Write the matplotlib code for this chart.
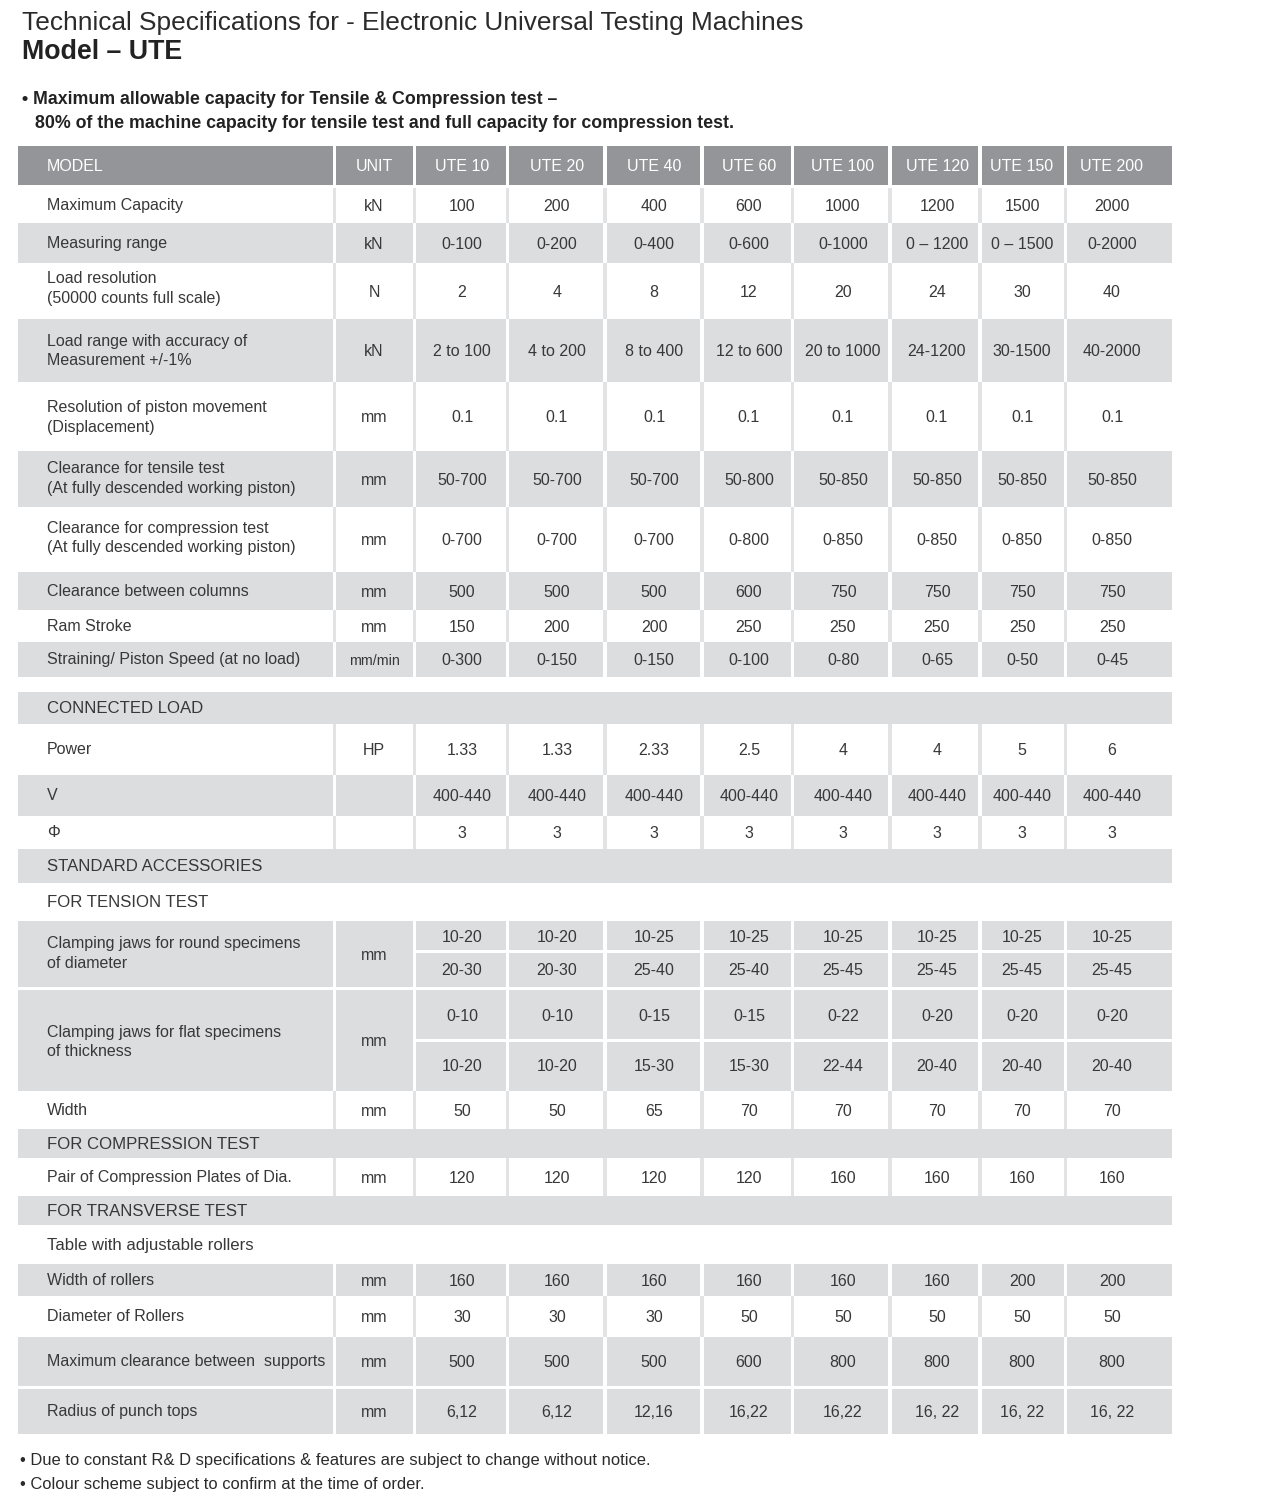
import matplotlib
matplotlib.use("Agg")
import matplotlib.pyplot as plt
from matplotlib.patches import Rectangle

plt.rcParams['font.family'] = ['Liberation Sans', 'DejaVu Sans']

# ---------------- text content ----------------
title_text = "Technical Specifications for - Electronic Universal Testing Machines"
model_text = "Model \u2013 UTE"
note_lines = ["\u2022 Maximum allowable capacity for Tensile & Compression test \u2013",
              "80% of the machine capacity for tensile test and full capacity for compression test."]
footnotes = ["\u2022 Due to constant R& D specifications & features are subject to change without notice.",
             "\u2022 Colour scheme subject to confirm at the time of order."]

label_header = "MODEL"
unit_header = "UNIT"
models = ["UTE 10", "UTE 20", "UTE 40", "UTE 60", "UTE 100", "UTE 120", "UTE 150", "UTE 200"]

# ---------------- data ----------------
max_capacity = ["100", "200", "400", "600", "1000", "1200", "1500", "2000"]
measuring_range = ["0-100", "0-200", "0-400", "0-600", "0-1000", "0 \u2013 1200", "0 \u2013 1500", "0-2000"]
load_resolution = ["2", "4", "8", "12", "20", "24", "30", "40"]
load_range = ["2 to 100", "4 to 200", "8 to 400", "12 to 600", "20 to 1000", "24-1200", "30-1500", "40-2000"]
piston_resolution = ["0.1", "0.1", "0.1", "0.1", "0.1", "0.1", "0.1", "0.1"]
clear_tensile = ["50-700", "50-700", "50-700", "50-800", "50-850", "50-850", "50-850", "50-850"]
clear_compression = ["0-700", "0-700", "0-700", "0-800", "0-850", "0-850", "0-850", "0-850"]
clear_columns = ["500", "500", "500", "600", "750", "750", "750", "750"]
ram_stroke = ["150", "200", "200", "250", "250", "250", "250", "250"]
piston_speed = ["0-300", "0-150", "0-150", "0-100", "0-80", "0-65", "0-50", "0-45"]
power = ["1.33", "1.33", "2.33", "2.5", "4", "4", "5", "6"]
voltage = ["400-440", "400-440", "400-440", "400-440", "400-440", "400-440", "400-440", "400-440"]
phase = ["3", "3", "3", "3", "3", "3", "3", "3"]
round_jaws_a = ["10-20", "10-20", "10-25", "10-25", "10-25", "10-25", "10-25", "10-25"]
round_jaws_b = ["20-30", "20-30", "25-40", "25-40", "25-45", "25-45", "25-45", "25-45"]
flat_jaws_a = ["0-10", "0-10", "0-15", "0-15", "0-22", "0-20", "0-20", "0-20"]
flat_jaws_b = ["10-20", "10-20", "15-30", "15-30", "22-44", "20-40", "20-40", "20-40"]
jaw_width = ["50", "50", "65", "70", "70", "70", "70", "70"]
comp_plates = ["120", "120", "120", "120", "160", "160", "160", "160"]
roller_width = ["160", "160", "160", "160", "160", "160", "200", "200"]
roller_dia = ["30", "30", "30", "50", "50", "50", "50", "50"]
max_clearance = ["500", "500", "500", "600", "800", "800", "800", "800"]
punch_radius = ["6,12", "6,12", "12,16", "16,22", "16,22", "16, 22", "16, 22", "16, 22"]

rows = [
    ("data", ["Maximum Capacity"], "kN", max_capacity),
    ("data", ["Measuring range"], "kN", measuring_range),
    ("data", ["Load resolution", "(50000 counts full scale)"], "N", load_resolution),
    ("data", ["Load range with accuracy of", "Measurement +/-1%"], "kN", load_range),
    ("data", ["Resolution of piston movement", "(Displacement)"], "mm", piston_resolution),
    ("data", ["Clearance for tensile test", "(At fully descended working piston)"], "mm", clear_tensile),
    ("data", ["Clearance for compression test", "(At fully descended working piston)"], "mm", clear_compression),
    ("data", ["Clearance between columns"], "mm", clear_columns),
    ("data", ["Ram Stroke"], "mm", ram_stroke),
    ("data", ["Straining/ Piston Speed (at no load)"], "mm/min", piston_speed),
    ("blank", [], "", None),
    ("section", ["CONNECTED LOAD"], "", None),
    ("data", ["Power"], "HP", power),
    ("data", ["V"], "", voltage),
    ("data", ["\u03a6"], "", phase),
    ("section", ["STANDARD ACCESSORIES"], "", None),
    ("blank", ["FOR TENSION TEST"], "", None),
    ("split", ["Clamping jaws for round specimens", "of diameter"], "mm", (round_jaws_a, round_jaws_b)),
    ("split", ["Clamping jaws for flat specimens", "of thickness"], "mm", (flat_jaws_a, flat_jaws_b)),
    ("data", ["Width"], "mm", jaw_width),
    ("section", ["FOR COMPRESSION TEST"], "", None),
    ("data", ["Pair of Compression Plates of Dia."], "mm", comp_plates),
    ("section", ["FOR TRANSVERSE TEST"], "", None),
    ("blank", ["Table with adjustable rollers"], "", None),
    ("data", ["Width of rollers"], "mm", roller_width),
    ("data", ["Diameter of Rollers"], "mm", roller_dia),
    ("data", ["Maximum clearance between  supports"], "mm", max_clearance),
    ("data", ["Radius of punch tops"], "mm", punch_radius),
]

# ---------------- layout (pixels) ----------------
W, H = 1264, 1500
col_edges = [(18, 333), (336, 413), (416, 506), (509, 603), (607, 700), (704, 791),
             (794, 888), (892, 978), (982, 1064), (1067, 1172)]
col_text_x = [374, 462, 557, 654, 749, 843, 937, 1022, 1112]
label_x = 47
header_box = (146, 185)
# (top, bottom, shaded, split_y, label line centres for two-line labels)
row_layout = [
    (188, 223, False, None, None), (223, 263, True, None, None),
    (263, 319, False, None, (277, 297)),
    (319, 382, True, None, (340, 359)), (382, 451, False, None, (406, 426)),
    (451, 507, True, None, (467, 487)),
    (507, 572, False, None, (527, 546)), (572, 610, True, None, None),
    (610, 642, False, None, None),
    (642, 677, True, None, None), (677, 692, False, None, None), (692, 724, True, None, None),
    (724, 775, False, None, None), (775, 816, True, None, None), (816, 849, False, None, None),
    (849, 883, True, None, None), (883, 921, False, None, None),
    (921, 987, True, 951, (942, 962)),
    (990, 1091, True, 1040, (1031, 1050)), (1091, 1129, False, None, None),
    (1129, 1158, True, None, None),
    (1158, 1196, False, None, None), (1196, 1225, True, None, None),
    (1225, 1264, False, None, None),
    (1264, 1296, True, None, None), (1296, 1337, False, None, None),
    (1337, 1386, True, None, None),
    (1389, 1434, True, None, None),
]

HEADER_FILL = "#949598"
ROW_FILL = "#dcdddf"
SEP_FILL = "#e2e3e4"
TEXT = "#383838"
FS = 11.5
FS_SECTION = 12.1

fig = plt.figure(figsize=(W / 100, H / 100), dpi=100)
ax = fig.add_axes([0, 0, 1, 1])
ax.set_xlim(0, W)
ax.set_ylim(H, 0)
ax.axis("off")


def rect(x0, x1, y0, y1, color):
    ax.add_patch(Rectangle((x0, y0), x1 - x0, y1 - y0, facecolor=color, edgecolor="none", lw=0))


def ctext(x, yc, s, ha="center", color=TEXT, size=FS, weight="normal"):
    cap = 0.716 * size * 100 / 72
    ax.text(x, yc + cap / 2, s, ha=ha, va="baseline", color=color, fontsize=size, fontweight=weight)


# header
for (l, r) in col_edges:
    rect(l, r, header_box[0], header_box[1], HEADER_FILL)
hy = (header_box[0] + header_box[1]) / 2
ctext(label_x, hy, label_header, ha="left", color="white")
ctext(col_text_x[0], hy, unit_header, color="white")
for i, m in enumerate(models):
    ctext(col_text_x[i + 1], hy, m, color="white")

# rows
for (kind, labels, unit, vals), (top, bot, shaded, split, lines) in zip(rows, row_layout):
    yc = (top + bot) / 2
    if kind == "section":
        rect(col_edges[0][0], col_edges[-1][1], top, bot, ROW_FILL)
    elif kind in ("data", "split"):
        if shaded:
            for ci, (l, r) in enumerate(col_edges):
                if kind == "split" and ci >= 2:
                    rect(l, r, top, split - 1.5, ROW_FILL)
                    rect(l, r, split + 1.5, bot, ROW_FILL)
                else:
                    rect(l, r, top, bot, ROW_FILL)
        else:
            for i in range(len(col_edges) - 1):
                rect(col_edges[i][1], col_edges[i + 1][0], top, bot, SEP_FILL)
    # labels
    if len(labels) == 1:
        size = FS_SECTION if kind in ("section", "blank") else FS
        ctext(label_x, yc - 1, labels[0], ha="left", size=size)
    elif len(labels) == 2:
        ctext(label_x, lines[0], labels[0], ha="left")
        ctext(label_x, lines[1], labels[1], ha="left")
    if unit:
        ctext(col_text_x[0], yc, unit, size=10.3 if unit == "mm/min" else FS)
    if kind == "data":
        for i, v in enumerate(vals):
            ctext(col_text_x[i + 1], yc, v)
    elif kind == "split":
        a, b = vals
        for i in range(len(a)):
            ctext(col_text_x[i + 1], (top + split) / 2, a[i])
            ctext(col_text_x[i + 1], (split + bot) / 2, b[i])

# titles, fitted to their widths in the reference
renderer = fig.canvas.get_renderer()


def fit(x, y, s, width, weight="normal", color="#2b2b2b"):
    t = ax.text(x, y, s, fontsize=12, fontweight=weight, ha="left", va="baseline", color=color)
    w = t.get_window_extent(renderer).width
    size = 12 * width / w
    t.set_fontsize(size)
    return size


fit(22, 30, title_text, 784)
fit(22, 59, model_text, 160, weight="bold", color="#222222")
s2 = fit(35, 127.5, note_lines[1], 696, weight="bold", color="#222222")
ax.text(22, 104.5, note_lines[0], fontsize=s2, fontweight="bold", ha="left", va="baseline", color="#222222")
s3 = fit(20, 1465.5, footnotes[0], 627)
ax.text(20, 1489.5, footnotes[1], fontsize=s3, ha="left", va="baseline", color="#2b2b2b")

fig.savefig("out.png", dpi=100)
